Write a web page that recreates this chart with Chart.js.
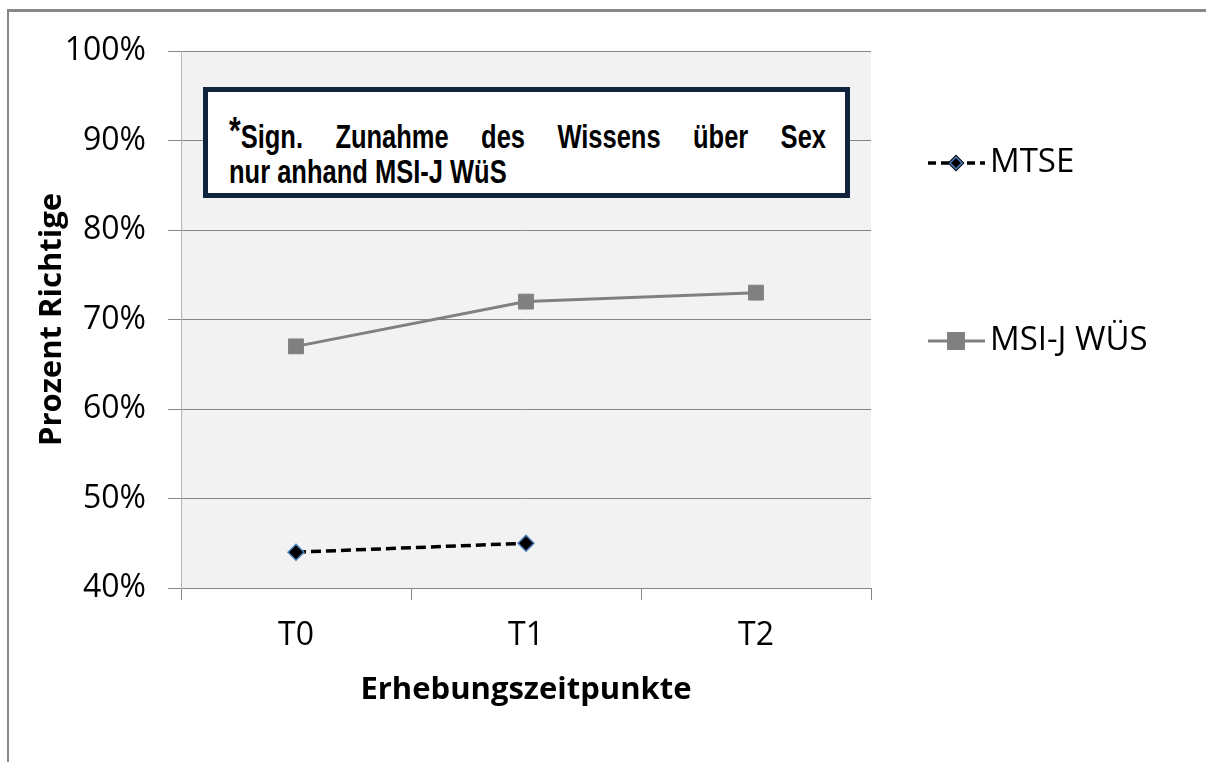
<!DOCTYPE html>
<html>
<head>
<meta charset="utf-8">
<script src="https://cdn.jsdelivr.net/npm/chart.js@4"></script>
<style>
  html, body { margin: 0; background: #fff; overflow: hidden; }
  #wrap { position: relative; width: 1206px; height: 762px; overflow: hidden; }
  #note { position: absolute; left: 203px; top: 87px; width: 637px; height: 101px;
    border: 5px solid #10243e; background: #fff; }
  #noteText { position: absolute; left: 229px; top: 113px; width: 597px;
    transform: scaleY(1.3); transform-origin: 0 0;
    font-family: "Liberation Sans", Arial, sans-serif; font-weight: bold; font-size: 25.5px;
    line-height: 27px; color: #000; }
  #noteText .l1 { text-align: justify; text-align-last: justify; }
  #noteText .star { font-size: 30px; vertical-align: 3px; }
</style>
</head>
<body>
<div id="wrap">
  <canvas id="myChart" width="1206" height="762"></canvas>
  <div id="note"></div>
  <div id="noteText">
    <div class="l1"><span class="star">*</span>Sign. Zunahme des Wissens über Sex</div>
    <div>nur anhand MSI-J WüS</div>
  </div>
</div>
<script>
var categories = ['T0', 'T1', 'T2'];
var mtseValues = [44, 45, null];
var msiValues = [67, 72, 73];
var seriesNames = ['MTSE', 'MSI-J WÜS'];
var yTicks = [40, 50, 60, 70, 80, 90, 100];

// plot background and the gray frame along top/left
var plotBg = {
  id: 'plotBg',
  beforeDraw: function(chart) {
    var a = chart.chartArea, ctx = chart.ctx;
    ctx.save();
    ctx.fillStyle = '#878787';
    ctx.fillRect(7, 9, chart.width - 7, 3);
    ctx.fillRect(7, 9, 2, chart.height - 9);
    ctx.fillStyle = '#f2f2f2';
    ctx.fillRect(a.left, a.top, a.right - a.left, a.bottom - a.top);
    ctx.restore();
  }
};

// legend drawn by hand: line with marker in the middle, like the original
var sideLegend = {
  id: 'sideLegend',
  afterDraw: function(chart) {
    var ctx = chart.ctx;
    var rows = [163, 341];
    chart.data.datasets.forEach(function(ds, i) {
      var y = rows[i];
      ctx.save();
      ctx.strokeStyle = ds.borderColor;
      ctx.lineWidth = ds.borderWidth;
      ctx.setLineDash(i === 0 ? [8, 5] : []);
      ctx.beginPath();
      ctx.moveTo(928, y);
      ctx.lineTo(985, y);
      ctx.stroke();
      ctx.setLineDash([]);
      Chart.helpers.drawPoint(ctx, {
        pointStyle: ds.pointStyle,
        radius: i === 0 ? 6 : ds.pointRadius,
        rotation: 0,
        borderWidth: ds.pointBorderWidth
      }, 956, y);
      ctx.fillStyle = ds.pointBackgroundColor;
      ctx.strokeStyle = ds.pointBorderColor;
      ctx.lineWidth = ds.pointBorderWidth;
      ctx.fill();
      ctx.stroke();
      ctx.fillStyle = '#000';
      ctx.font = '33px "Open Sans"';
      ctx.textBaseline = 'middle';
      ctx.fillText(ds.label, 990, y);
      ctx.restore();
    });
  }
};

var ctx = document.getElementById('myChart');
new Chart(ctx, {
  type: 'line',
  data: {
    labels: categories,
    datasets: [{
      label: seriesNames[0],
      data: mtseValues,
      borderColor: '#000',
      borderWidth: 3.5,
      borderDash: [10, 5],
      pointStyle: 'rectRot',
      pointRadius: 8,
      pointBackgroundColor: '#000',
      pointBorderColor: '#4f81bd',
      pointBorderWidth: 1.5,
      spanGaps: false
    }, {
      label: seriesNames[1],
      data: msiValues,
      borderColor: '#808080',
      borderWidth: 3,
      pointStyle: 'rect',
      pointRadius: 10.5,
      pointBackgroundColor: '#808080',
      pointBorderColor: '#808080',
      pointBorderWidth: 1
    }]
  },
  options: {
    responsive: false,
    animation: false,
    layout: { padding: { left: 0, top: 51, right: 335, bottom: 0 } },
    plugins: {
      legend: { display: false },
      tooltip: { enabled: false }
    },
    scales: {
      x: {
        offset: true,
        grid: { offset: true, drawOnChartArea: false, drawTicks: true, tickLength: 12, color: '#868686' },
        border: { color: '#868686' },
        ticks: { color: '#000', font: { family: 'Open Sans', size: 32 }, padding: 17 },
        title: { display: true, text: 'Erhebungszeitpunkte', color: '#000',
          font: { family: 'Open Sans', size: 31, weight: 'bold' }, padding: { bottom: 53 } },
        afterFit: function(scale) { scale.height = 174; }
      },
      y: {
        min: yTicks[0],
        max: yTicks[yTicks.length - 1],
        afterBuildTicks: function(scale) {
          scale.ticks = yTicks.map(function(v) { return { value: v }; });
        },
        grid: { color: '#868686', tickLength: 13 },
        border: { color: '#b5b5b5' },
        ticks: { color: '#000', font: { family: 'Open Sans', size: 32 }, padding: 22,
          callback: function(v) { return v + '%'; } },
        title: { display: true, text: 'Prozent Richtige', color: '#000',
          font: { family: 'Open Sans', size: 31, weight: 'bold' }, padding: { top: 34 } },
        afterFit: function(scale) { scale.width = 181; }
      }
    }
  },
  plugins: [plotBg, sideLegend]
});
</script>
</body>
</html>
